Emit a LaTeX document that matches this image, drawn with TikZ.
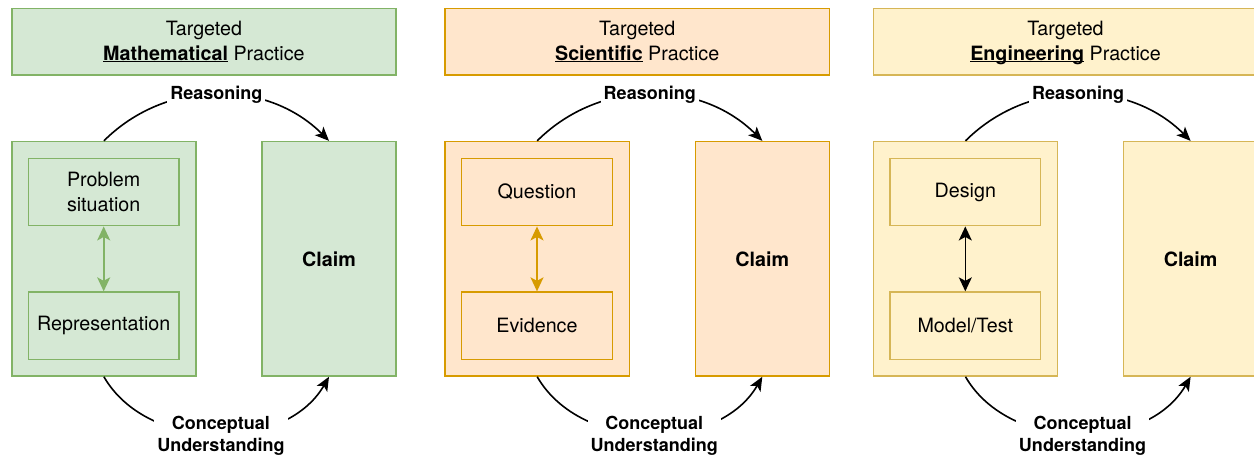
\documentclass[tikz,border=0pt]{standalone}
\usepackage{fontspec}
\setmainfont{TeX Gyre Heros}
\usetikzlibrary{arrows.meta}
\definecolor{mfill}{HTML}{D5E8D4}
\definecolor{mline}{HTML}{82B366}
\definecolor{sfill}{HTML}{FFE6CC}
\definecolor{sline}{HTML}{D79B00}
\definecolor{efill}{HTML}{FFF2CC}
\definecolor{eline}{HTML}{D6B656}
\tikzset{
  mbox/.style={fill=mfill, draw=mline},
  sbox/.style={fill=sfill, draw=sline},
  ebox/.style={fill=efill, draw=eline},
  mlink/.style={draw=mline, fill=mline},
  slink/.style={draw=sline, fill=sline},
  elink/.style={draw=black, fill=black},
  box/.style={line width=1.6pt, inner sep=0pt, align=center,
    font=\fontsize{19.7}{24.5}\selectfont},
  lbl/.style={fill=white, inner sep=3pt, align=center,
    font=\fontsize{18}{22.7}\selectfont\bfseries},
  tip/.style={-{Stealth[length=14pt,width=12pt,inset=3.5pt]}},
  twotip/.style={{Stealth[length=14pt,width=13pt,inset=3.5pt]}-{Stealth[length=14pt,width=13pt,inset=3.5pt]}},
}
\begin{document}
\begin{tikzpicture}[x=1pt, y=-1pt, line width=1.6pt]
\useasboundingbox (0,0) rectangle (1254,460);
\clip (0,0) rectangle (1254,460);
\foreach \X/\p/\word/\up/\down in {11.7/m/Mathematical/{Problem\\situation}/Representation,
    445/s/Scientific/Question/Evidence,
    873.3/e/Engineering/Design/{Model/Test}}{
  \node[box, \p box, minimum width=384.3pt, minimum height=66.7pt] (T\p) at (\X+192.2, 41.7)
    {Targeted\\\underline{\smash{\textbf{\word}}} Practice};
  \node[box, \p box, minimum width=184.3pt, minimum height=234.3pt] (L\p) at (\X+92.2, 258.8) {};
  \node[box, \p box, minimum width=150.7pt, minimum height=67.3pt] (U\p) at (\X+92, 192) {\up};
  \node[box, \p box, minimum width=150.7pt, minimum height=67.3pt] (D\p) at (\X+92, 325.8) {\down};
  \node[box, \p box, minimum width=134pt, minimum height=234.3pt] (C\p) at (\X+317.3, 258.8) {\textbf{Claim}};
  % inner link
  \draw[\p link, twotip] (U\p) -- (D\p);
  % reasoning / understanding
  \draw[tip] (L\p.north) to[out=45, in=135] node[lbl] {Reasoning} (C\p.north);
  \draw[tip] (L\p.south) to[out=-60, in=-120]
    node[lbl, xshift=4.5pt, yshift=-2pt] {Conceptual\\Understanding} (C\p.south);
}
\end{tikzpicture}
\end{document}
